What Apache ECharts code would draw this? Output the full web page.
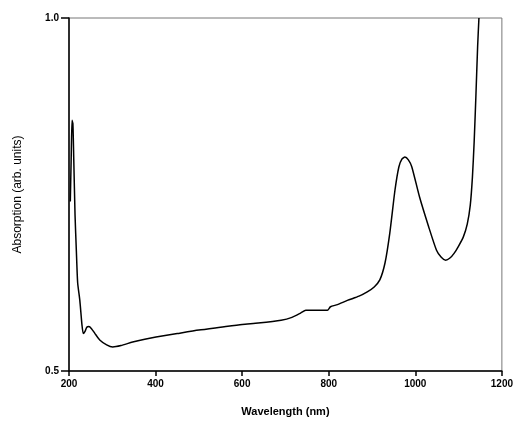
<!DOCTYPE html>
<html>
<head>
<meta charset="utf-8">
<script src="https://cdn.jsdelivr.net/npm/echarts@6/dist/echarts.min.js"></script>
<style>
  html, body { margin: 0; padding: 0; background: #fff; }
  #chart { width: 516px; height: 426px; }
</style>
</head>
<body>
<div id="chart"></div>
<script>
// spectrum
var wavelength = [203, 205, 207, 209, 211, 214, 217, 220, 225, 230, 233, 237, 241, 246, 252,
    260, 271, 287, 301, 320, 347, 375, 401, 450, 500, 550, 600, 637, 690, 715, 735, 747,
    770, 797, 804, 820, 843, 870, 889, 905, 918, 930, 941, 953, 962, 969, 976, 984, 992,
    1010, 1031, 1049, 1060, 1070, 1080, 1090, 1100, 1111, 1120, 1127, 1132, 1136, 1140, 1144, 1147];
var absorption = [0.74, 0.80, 0.855, 0.85, 0.80, 0.72, 0.67, 0.625, 0.60, 0.565, 0.553, 0.556, 0.562, 0.563, 0.56,
    0.553, 0.544, 0.537, 0.534, 0.536, 0.541, 0.545, 0.548, 0.553, 0.558, 0.562, 0.566, 0.568, 0.572, 0.576, 0.582, 0.586,
    0.586, 0.586, 0.591, 0.594, 0.600, 0.606, 0.612, 0.619, 0.629, 0.653, 0.695, 0.756, 0.789, 0.800, 0.803, 0.799, 0.789,
    0.746, 0.704, 0.671, 0.661, 0.657, 0.660, 0.667, 0.677, 0.690, 0.708, 0.735, 0.775, 0.825, 0.89, 0.96, 1.0];
var xTicks = [200, 400, 600, 800, 1000, 1200];
var yTicks = [0.5, 1.0];

var points = [];
for (var i = 0; i < wavelength.length; i++) {
    points.push([wavelength[i], absorption[i]]);
}

var options = {
    animation: false,
    backgroundColor: '#fff',
    grid: {
        left: 69,
        right: 10,
        top: 18,
        bottom: 55,
        show: true,
        borderColor: '#777',
        borderWidth: 1
    },
    xAxis: {
        type: 'value',
        min: xTicks[0],
        max: xTicks[xTicks.length - 1],
        interval: xTicks[1] - xTicks[0],
        name: 'Wavelength (nm)',
        nameLocation: 'middle',
        nameGap: 35,
        nameTextStyle: { fontFamily: 'Liberation Sans', fontWeight: 'bold', fontSize: 11, color: '#000' },
        splitLine: { show: false },
        axisLine: { lineStyle: { color: '#000', width: 1.5 } },
        axisTick: { length: 5, lineStyle: { color: '#000', width: 1.5 } },
        axisLabel: {
            fontFamily: 'Liberation Sans', fontWeight: 'bold', fontSize: 10, color: '#000', margin: 8,
            formatter: function (v) { return String(v); }
        }
    },
    yAxis: {
        type: 'value',
        min: yTicks[0],
        max: yTicks[yTicks.length - 1],
        interval: yTicks[1] - yTicks[0],
        name: 'Absorption (arb. units)',
        nameLocation: 'middle',
        nameGap: 45,
        nameTextStyle: { fontFamily: 'Liberation Sans', fontSize: 12, color: '#000' },
        splitLine: { show: false },
        axisLine: { lineStyle: { color: '#000', width: 1.5 } },
        axisTick: { length: 8, lineStyle: { color: '#000', width: 1.5 } },
        axisLabel: {
            fontFamily: 'Liberation Sans', fontWeight: 'bold', fontSize: 10, color: '#000', margin: 10,
            formatter: function (v) { return v.toFixed(1); }
        }
    },
    series: [
        {
            type: 'line',
            data: points,
            smooth: 0.2,
            showSymbol: false,
            clip: true,
            lineStyle: { color: '#000', width: 1.5 }
        }
    ]
};

var myChart = echarts.init(document.getElementById('chart'));
myChart.setOption(options);
</script>
</body>
</html>
